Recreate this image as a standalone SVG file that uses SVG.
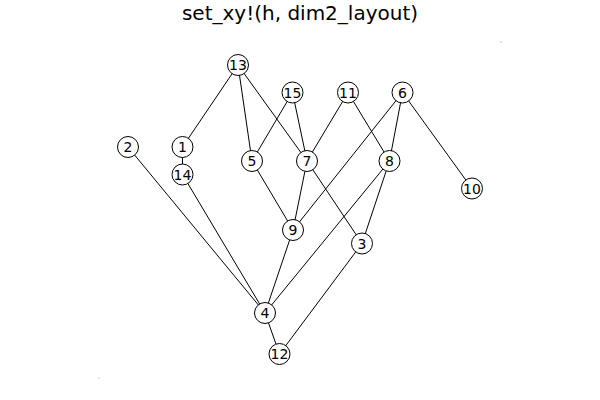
<svg xmlns="http://www.w3.org/2000/svg" width="600" height="400" viewBox="0 0 600 400">
  <style>
    .edge { stroke: #000; stroke-width: 1; fill: none; }
    .node circle { fill: #fff; stroke: #000; stroke-width: 1; }
    .node text { font-family: "DejaVu Sans", sans-serif; font-size: 14px; text-anchor: middle; dominant-baseline: central; fill: #000; }
    .title { font-family: "DejaVu Sans", sans-serif; font-size: 20px; text-anchor: middle; fill: #000; }
  </style>
  <rect width="600" height="400" fill="#fff"/>
  <text class="title" x="300" y="20">set_xy!(h, dim2_layout)</text>
  <!-- tiny corner markers of the plot extent -->
  <rect x="98.5" y="377.5" width="1" height="1" fill="#9aa040" opacity="0.8"/>
  <rect x="500.5" y="41.5" width="1" height="1" fill="#30a0a8" opacity="0.8"/>
  <g id="edges">
    <line class="edge" x1="238" y1="65" x2="182.5" y2="147"/>
    <line class="edge" x1="238" y1="65" x2="252" y2="161"/>
    <line class="edge" x1="238" y1="65" x2="307" y2="161"/>
    <line class="edge" x1="292.5" y1="92.5" x2="252" y2="161"/>
    <line class="edge" x1="292.5" y1="92.5" x2="307" y2="161"/>
    <line class="edge" x1="348" y1="92.5" x2="307" y2="161"/>
    <line class="edge" x1="348" y1="92.5" x2="389.5" y2="161"/>
    <line class="edge" x1="402.5" y1="92.5" x2="389.5" y2="161"/>
    <line class="edge" x1="402.5" y1="92.5" x2="293" y2="230"/>
    <line class="edge" x1="402.5" y1="92.5" x2="472" y2="188.5"/>
    <line class="edge" x1="182.5" y1="147" x2="182.5" y2="174.5"/>
    <line class="edge" x1="128" y1="147" x2="265" y2="313"/>
    <line class="edge" x1="182.5" y1="174.5" x2="265" y2="313"/>
    <line class="edge" x1="252" y1="161" x2="293" y2="230"/>
    <line class="edge" x1="307" y1="161" x2="293" y2="230"/>
    <line class="edge" x1="307" y1="161" x2="362" y2="243.5"/>
    <line class="edge" x1="389.5" y1="161" x2="265" y2="313"/>
    <line class="edge" x1="389.5" y1="161" x2="362" y2="243.5"/>
    <line class="edge" x1="293" y1="230" x2="265" y2="313"/>
    <line class="edge" x1="362" y1="243.5" x2="279.5" y2="354"/>
    <line class="edge" x1="265" y1="313" x2="279.5" y2="354"/>
  </g>
  <g id="n13" class="node"><circle cx="238" cy="65" r="10.5"/><text x="238" y="65">13</text></g>
  <g id="n15" class="node"><circle cx="292.5" cy="92.5" r="10.5"/><text x="292.5" y="92.5">15</text></g>
  <g id="n11" class="node"><circle cx="348" cy="92.5" r="10.5"/><text x="348" y="92.5">11</text></g>
  <g id="n6" class="node"><circle cx="402.5" cy="92.5" r="10.5"/><text x="402.5" y="92.5">6</text></g>
  <g id="n2" class="node"><circle cx="128" cy="147" r="10.5"/><text x="128" y="147">2</text></g>
  <g id="n1" class="node"><circle cx="182.5" cy="147" r="10.5"/><text x="182.5" y="147">1</text></g>
  <g id="n14" class="node"><circle cx="182.5" cy="174.5" r="10.5"/><text x="182.5" y="174.5">14</text></g>
  <g id="n5" class="node"><circle cx="252" cy="161" r="10.5"/><text x="252" y="161">5</text></g>
  <g id="n7" class="node"><circle cx="307" cy="161" r="10.5"/><text x="307" y="161">7</text></g>
  <g id="n8" class="node"><circle cx="389.5" cy="161" r="10.5"/><text x="389.5" y="161">8</text></g>
  <g id="n10" class="node"><circle cx="472" cy="188.5" r="10.5"/><text x="472" y="188.5">10</text></g>
  <g id="n9" class="node"><circle cx="293" cy="230" r="10.5"/><text x="293" y="230">9</text></g>
  <g id="n3" class="node"><circle cx="362" cy="243.5" r="10.5"/><text x="362" y="243.5">3</text></g>
  <g id="n4" class="node"><circle cx="265" cy="313" r="10.5"/><text x="265" y="313">4</text></g>
  <g id="n12" class="node"><circle cx="279.5" cy="354" r="10.5"/><text x="279.5" y="354">12</text></g>
</svg>
